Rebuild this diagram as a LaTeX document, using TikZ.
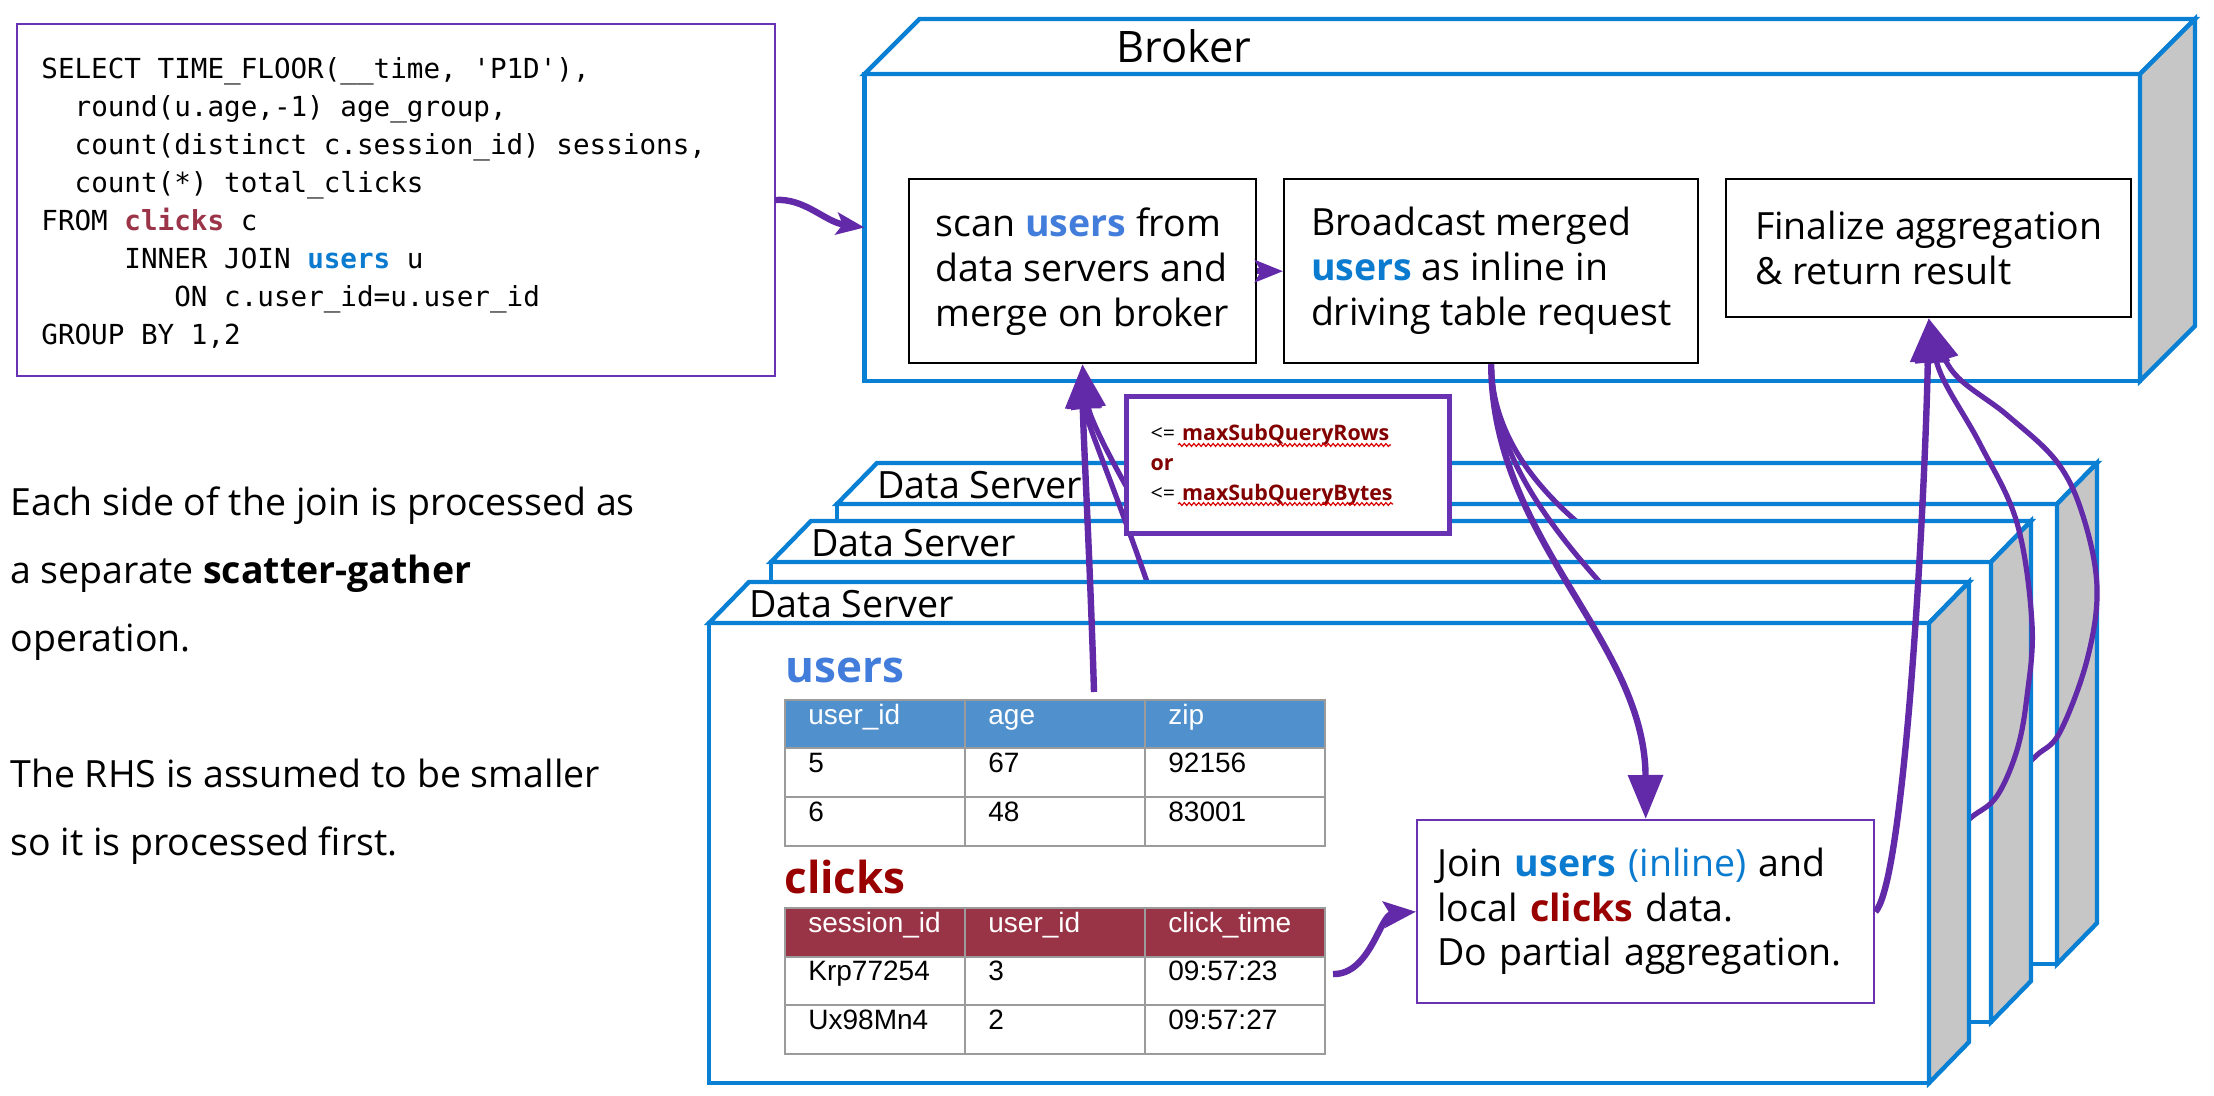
\documentclass[tikz,border=0pt]{standalone}
\usepackage{fontspec}
\setmainfont{Open Sans}
\setmonofont{DejaVu Sans Mono}
\newfontfamily\tabfont{Liberation Sans}
\usetikzlibrary{arrows.meta,decorations.pathmorphing}
\definecolor{srvblue}{RGB}{10,128,212}
\definecolor{sidegray}{RGB}{198,198,198}
\definecolor{arrowpurple}{RGB}{98,42,168}
\definecolor{boxpurple}{RGB}{104,50,178}
\definecolor{hdrblue}{RGB}{79,144,205}
\definecolor{hdrred}{RGB}{153,51,70}
\definecolor{gridgray}{RGB}{155,155,155}
\definecolor{titleblue}{RGB}{66,125,220}
\definecolor{darkred}{RGB}{153,0,0}
\definecolor{kwblue}{RGB}{11,123,208}
\definecolor{kwred}{RGB}{155,52,72}
\definecolor{limred}{RGB}{130,0,0}
\tikzset{
 face/.style={rectangle, draw=srvblue, fill=white, line width=2.2pt, inner sep=0pt, outer sep=0pt, anchor=north west},
 topface/.style={draw=srvblue, fill=white, line width=2.2pt},
 sideface/.style={draw=srvblue, fill=sidegray, line width=2.2pt},
 srvlabel/.style={anchor=base west, inner sep=0pt, font=\fontsize{18.8pt}{22pt}\selectfont},
 stepbox/.style={rectangle, draw=black, line width=1.2pt, fill=white, anchor=north west, align=left, inner sep=0pt, font=\fontsize{18.75pt}{22.5pt}\selectfont},
 flow/.style={draw=arrowpurple, line width=3.2pt},
 flowthin/.style={draw=arrowpurple, line width=2.6pt},
 bighead/.style={-{Triangle[length=22pt,width=17pt]}},
 smallhead/.style={-{Stealth[length=14pt,width=11pt,inset=3pt]}},
 midhead/.style={-{Stealth[length=16pt,width=13pt,inset=3pt]}},
 cell/.style={anchor=base west, inner sep=0pt, font=\tabfont\fontsize{14pt}{16pt}\selectfont},
 hcell/.style={cell, text=white},
 gridline/.style={draw=gridgray, line width=1.3pt},
 squig/.style={draw=red!85!black, line width=0.6pt, decorate, decoration={snake, amplitude=0.7pt, segment length=2.4pt}},
}
\newcommand{\dataserver}[3]{%
 \node[face, minimum width=610pt, minimum height=230pt] (#1) at (#2,#3) {};
 \filldraw[topface] (#1.north west) -- ++(40,-41) -- ++(1220,0) -- (#1.north east) -- cycle;
 \filldraw[sideface] (#1.north east) -- ++(40,-41) -- ++(0,460) -- (#1.south east) -- cycle;
 \node[srvlabel] (#1-label) at ([shift={(40,-6)}]#1.north west) {Data Server};
}
\begin{document}
\begin{tikzpicture}[x=0.5pt,y=-0.5pt]
\fill[white] (0,0) rectangle (2214,1096);
\useasboundingbox (0,0) rectangle (2214,1096);

% ---------------- Broker ----------------
\node[face, minimum width=637.75pt, minimum height=153.5pt] (broker) at (864.5,74) {};
\filldraw[topface] (broker.north west) -- ++(55,-55) -- ++(1275.5,0) -- (broker.north east) -- cycle;
\filldraw[sideface] (broker.north east) -- ++(55,-55) -- ++(0,307) -- (broker.south east) -- cycle;
\node[anchor=base west, inner sep=0pt, font=\fontsize{21.7pt}{26pt}\selectfont] (brokerlbl) at (1116,63) {Broker};

\node[stepbox, minimum width=173.25pt, minimum height=92pt] (scan) at (908,178)
 {scan {\bfseries\color{titleblue}users} from\\data servers and\\merge on broker};
\node[stepbox, minimum width=207pt, minimum height=92pt] (bcast) at (1283,178)
 {Broadcast merged\\{\bfseries\color{kwblue}users} as inline in\\driving table request};
\node[stepbox, minimum width=202.5pt, minimum height=69pt] (fin) at (1725,178)
 {Finalize aggregation\\\& return result};
\draw[flow, smallhead] (scan.east) -- (bcast.west);

% ---------------- back data server ----------------
\dataserver{srvback}{837}{504}
\coordinate (bk1) at (1170,560);
\draw[flowthin, bighead] (bk1) .. controls (1120,480) and (1090,420) .. (scan.south);
\coordinate (bk2) at (1610,548);
\draw[flowthin] (bcast.south) .. controls (1492,430) and (1530,490) .. (bk2);
\coordinate (bk3) at (2015,775);
\draw[flowthin, bighead] plot[smooth, tension=0.6] coordinates {(bk3) (2037,755) (2060,732) (2087,660) (2097,588) (2083,516) (2057,462) (2007,415) (1953,372) (fin.south)};

% ---------------- middle data server ----------------
\dataserver{srvmid}{771}{562}
\coordinate (md1) at (1160,620);
\draw[flowthin, bighead] (md1) .. controls (1120,500) and (1085,420) .. (scan.south);
\coordinate (md2) at (1630,615);
\draw[flowthin] (bcast.south) .. controls (1493,450) and (1540,520) .. (md2);
\coordinate (md3) at (1955,830);
\draw[flowthin, bighead] plot[smooth, tension=0.6] coordinates {(md3) (1973,816) (1997,796) (2017,750) (2027,696) (2032,624) (2017,523) (1980,444) (1940,372) (fin.south)};

% ---------------- front data server ----------------
\dataserver{srvfront}{709}{623}

% users table
\node[anchor=base west, inner sep=0pt, text=titleblue, font=\bfseries\fontsize{22pt}{26pt}\selectfont] (utitle) at (785,682) {users};
\fill[hdrblue] (785,700) rectangle (1325,748);
\draw[gridline] (785,700) rectangle (1325,846) (785,748) -- (1325,748) (785,797) -- (1325,797) (965,700) -- (965,846) (1145,700) -- (1145,846);
\node[hcell] (u-h1) at (808,724) {user\_id};
\node[hcell] (u-h2) at (988,724) {age};
\node[hcell] (u-h3) at (1168,724) {zip};
\node[cell] (u-11) at (808,772) {5};
\node[cell] (u-12) at (988,772) {67};
\node[cell] (u-13) at (1168,772) {92156};
\node[cell] (u-21) at (808,821) {6};
\node[cell] (u-22) at (988,821) {48};
\node[cell] (u-23) at (1168,821) {83001};

% clicks table
\node[anchor=base west, inner sep=0pt, text=darkred, font=\bfseries\fontsize{22pt}{26pt}\selectfont] (ctitle) at (784,893) {clicks};
\fill[hdrred] (785,908) rectangle (1325,957);
\draw[gridline] (785,908) rectangle (1325,1054) (785,957) -- (1325,957) (785,1005) -- (1325,1005) (965,908) -- (965,1054) (1145,908) -- (1145,1054);
\node[hcell] (c-h1) at (808,932) {session\_id};
\node[hcell] (c-h2) at (988,932) {user\_id};
\node[hcell] (c-h3) at (1168,932) {click\_time};
\node[cell] (c-11) at (808,980) {Krp77254};
\node[cell] (c-12) at (988,980) {3};
\node[cell] (c-13) at (1168,980) {09:57:23};
\node[cell] (c-21) at (808,1029) {Ux98Mn4};
\node[cell] (c-22) at (988,1029) {2};
\node[cell] (c-23) at (1168,1029) {09:57:27};

% join box
\node[rectangle, draw=boxpurple, line width=1.2pt, fill=white, anchor=north west, minimum width=228.5pt, minimum height=91.5pt, text width=208.5pt, inner xsep=10pt, inner ysep=0pt, align=left, font=\fontsize{18.75pt}{22.25pt}\selectfont] (join) at (1416,819)
 {Join {\bfseries\color{kwblue}users} {\color{kwblue}(inline)} and\\local {\bfseries\color{darkred}clicks} data.\\Do partial aggregation.};

% front arrows
\coordinate (us) at (1094,692);
\draw[flow, bighead] (us) .. controls (1090,560) and (1083,430) .. (scan.south);
\draw[flow, bighead] (bcast.south) .. controls (1492,540) and (1645,640) .. (join.north);
\draw[flow, bighead] (join.east) .. controls (1905,880) and (1925,500) .. (fin.south);
\coordinate (cs) at (1333,974);
\draw[flow, midhead] (cs) .. controls (1370,975) and (1380,915) .. (join.west);

% limit box
\node[rectangle, draw=boxpurple, line width=2.5pt, fill=white, anchor=north west, minimum width=161.5pt, minimum height=68.5pt, text width=137.5pt, inner xsep=12pt, inner ysep=0pt, align=left, font=\fontsize{10.7pt}{15pt}\selectfont] (lim) at (1124,394)
 {<= {\bfseries\color{limred}maxSubQueryRows}\\{\bfseries\color{limred}or}\\<= {\bfseries\color{limred}maxSubQueryBytes}};
\draw[squig] (1178,445) -- (1391,445);
\draw[squig] (1178,504) -- (1393,504);

% SQL box
\node[rectangle, draw=boxpurple, line width=1pt, fill=white, anchor=north west, minimum width=379pt, minimum height=176pt, inner sep=0pt, outer sep=0pt] (sql) at (17,24) {};
\node[anchor=north west, inner sep=0pt, align=left, font=\ttfamily\fontsize{13.8pt}{19pt}\selectfont] (code) at (41,57)
 {SELECT TIME\_FLOOR(\_\_time, 'P1D'),\\
 ~~round(u.age,-1) age\_group,\\
 ~~count(distinct c.session\_id) sessions,\\
 ~~count(*) total\_clicks\\
 FROM {\bfseries\color{kwred}clicks} c\\
 ~~~~~INNER JOIN {\bfseries\color{kwblue}users} u\\
 ~~~~~~~~ON c.user\_id=u.user\_id\\
 GROUP BY 1,2};
\draw[flow, smallhead] (sql.east) .. controls (805,198) and (825,222) .. (broker.west);

% left note
\node[anchor=north west, inner sep=0pt, align=left, font=\fontsize{18.75pt}{34pt}\selectfont] (note) at (10,486.5)
 {Each side of the join is processed as\\a separate \textbf{scatter-gather}\\operation.\\[34pt]The RHS is assumed to be smaller\\so it is processed first.};
\end{tikzpicture}
\end{document}
